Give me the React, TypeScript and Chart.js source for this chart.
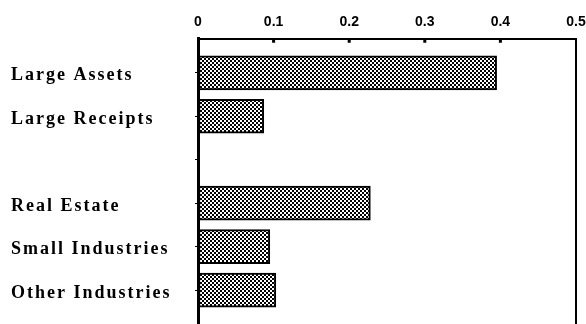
import React, { useEffect, useRef } from "react";
import { Chart, registerables } from "chart.js";

Chart.register(...registerables);

const CATEGORIES: string[] = [
  "Large Assets",
  "Large Receipts",
  "",
  "Real Estate",
  "Small Industries",
  "Other Industries",
];
const VALUES: (number | null)[] = [0.395, 0.087, null, 0.228, 0.095, 0.103];
const X_TICKS: number[] = [0, 0.1, 0.2, 0.3, 0.4, 0.5];

function makePattern(): CanvasPattern | string {
  const c = document.createElement("canvas");
  c.width = 4;
  c.height = 4;
  const g = c.getContext("2d");
  if (!g) return "#555";
  g.fillStyle = "#000";
  g.fillRect(0, 0, 4, 4);
  g.fillStyle = "#fff";
  g.fillRect(0, 0, 2, 2);
  g.fillRect(2, 2, 2, 2);
  const p = g.createPattern(c, "repeat");
  return p || "#555";
}

const framePlugin = {
  id: "frame",
  afterLayout(chart: any) {
    const y = chart.scales.y;
    if (y && !y.__spaced) {
      const orig = y.drawLabels.bind(y);
      y.drawLabels = (area: any) => {
        const ctx = chart.ctx as any;
        ctx.save();
        ctx.letterSpacing = "2px";
        ctx.translate(0, 3);
        orig(area);
        ctx.restore();
      };
      y.__spaced = true;
    }
  },
  afterDraw(chart: any) {
    const { ctx, chartArea, scales } = chart;
    ctx.save();
    ctx.strokeStyle = "#000";
    ctx.lineWidth = 2;
    ctx.beginPath();
    ctx.moveTo(chartArea.right, chartArea.top);
    ctx.lineTo(chartArea.right, chartArea.bottom);
    ctx.stroke();
    ctx.lineWidth = 3;
    ctx.beginPath();
    X_TICKS.slice(1, -1).forEach((v) => {
      const px = scales.x.getPixelForValue(v);
      ctx.moveTo(px, chartArea.top);
      ctx.lineTo(px, chartArea.top + 4);
    });
    ctx.stroke();
    ctx.restore();
  },
};

export default function App() {
  const ref = useRef<HTMLCanvasElement | null>(null);

  useEffect(() => {
    if (!ref.current) return;
    const pattern = makePattern();
    const data = VALUES.map((v, i) => (v == null ? null : { x: v, y: i + 1 })).filter(
      (d) => d !== null
    ) as { x: number; y: number }[];

    const chart = new Chart(ref.current, {
      type: "bar",
      data: {
        datasets: [
          {
            data: data as any,
            backgroundColor: pattern as any,
            borderColor: "#000",
            borderWidth: 2,
            borderSkipped: false,
            barThickness: 34,
          },
        ],
      },
      plugins: [framePlugin],
      options: {
        indexAxis: "y",
        animation: false,
        responsive: true,
        maintainAspectRatio: false,
        layout: { padding: { left: 11, top: 6, right: 0, bottom: 0 } },
        plugins: {
          legend: { display: false },
          tooltip: { enabled: false },
        },
        scales: {
          x: {
            type: "linear",
            position: "top",
            min: 0,
            max: 0.5,
            afterBuildTicks: (scale: any) => {
              scale.ticks = X_TICKS.map((v) => ({ value: v }));
            },
            afterFit: (scale: any) => {
              scale.paddingLeft = 0;
              scale.paddingRight = 10;
            },
            ticks: {
              color: "#000",
              padding: 8,
              font: { family: "Liberation Sans", size: 14, weight: "bold" },
              callback: (v: any) => String(v),
            },
            grid: { display: true, drawOnChartArea: false, drawTicks: false },
            border: { display: true, color: "#000", width: 2 },
          },
          y: {
            type: "linear",
            reverse: true,
            min: 0.217,
            max: 6.78,
            offset: false,
            afterBuildTicks: (scale: any) => {
              scale.ticks = CATEGORIES.map((_, i) => ({ value: i + 1 }));
            },
            afterFit: (scale: any) => {
              scale.width = 187;
              scale.paddingTop = 0;
              scale.paddingBottom = 0;
            },
            ticks: {
              color: "#000",
              crossAlign: "far",
              padding: 4,
              font: { family: "Liberation Serif", size: 18, weight: "bold" },
              callback: (_v: any, index: number) => CATEGORIES[index] ?? "",
            },
            grid: {
              offset: false,
              drawOnChartArea: false,
              drawTicks: true,
              tickLength: 3,
              color: "#000",
              lineWidth: 1,
            },
            border: { display: true, color: "#000", width: 3 },
          },
        },
      },
    });
    return () => chart.destroy();
  }, []);

  return (
    <div style={{ position: "fixed", left: 0, top: 0, width: 586, height: 324, background: "#fff" }}>
      <canvas ref={ref} />
    </div>
  );
}
